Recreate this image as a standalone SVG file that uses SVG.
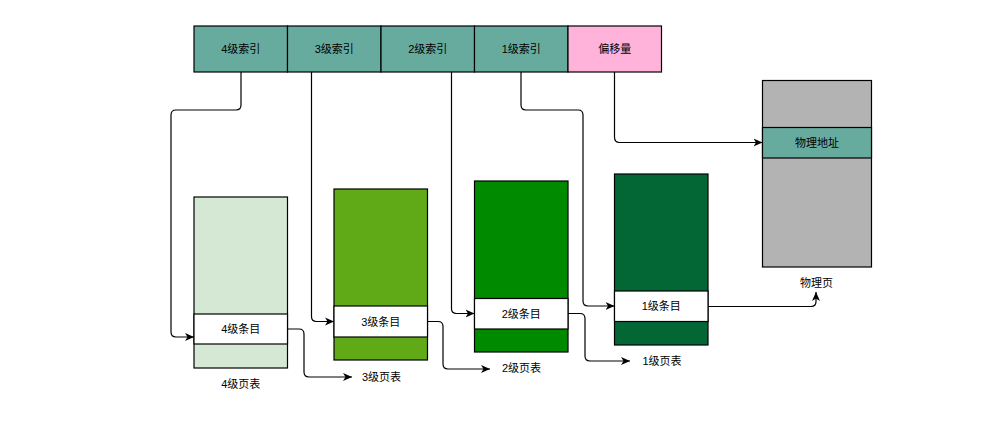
<svg xmlns="http://www.w3.org/2000/svg" width="1003" height="428" viewBox="0 0 1003 428">
<style>
text{font-family:"Liberation Sans","Noto Sans CJK SC",sans-serif;font-size:11px;fill:#000;text-anchor:middle;dominant-baseline:central}
.b{stroke:#000;stroke-width:1.2}
.c{fill:none;stroke:#000;stroke-width:1.2;marker-end:url(#arr)}
</style>
<defs>
<marker id="arr" markerUnits="userSpaceOnUse" markerWidth="10" markerHeight="9" refX="9" refY="4.5" orient="auto">
<path d="M0,0.5 L9,4.5 L0,8.5 L2.5,4.5 Z" fill="#000"/>
</marker>
</defs>
<rect width="1003" height="428" fill="#fff"/>
<g id="idx4"><rect class="b" x="194" y="26" width="93.5" height="46" fill="#67AB9F"/><text x="240.7" y="49">4级索引</text></g>
<g id="idx3"><rect class="b" x="287.5" y="26" width="93.5" height="46" fill="#67AB9F"/><text x="334.2" y="49">3级索引</text></g>
<g id="idx2"><rect class="b" x="381" y="26" width="93.5" height="46" fill="#67AB9F"/><text x="427.7" y="49">2级索引</text></g>
<g id="idx1"><rect class="b" x="474.5" y="26" width="93.5" height="46" fill="#67AB9F"/><text x="521.2" y="49">1级索引</text></g>
<g id="offset"><rect class="b" x="568" y="26" width="93.5" height="46" fill="#FFB3DA"/><text x="614.7" y="49">偏移量</text></g>
<g id="pt4"><rect class="b" x="194" y="197" width="93.5" height="171" fill="#D5E8D4"/><rect class="b" x="194" y="314" width="93.5" height="30" fill="#fff"/><text x="240.7" y="329">4级条目</text><text x="240.7" y="384">4级页表</text></g>
<g id="pt3"><rect class="b" x="334" y="189" width="93.5" height="171" fill="#60A917"/><rect class="b" x="334" y="306" width="93.5" height="31" fill="#fff"/><text x="380.7" y="321.5">3级条目</text><text x="381.5" y="377">3级页表</text></g>
<g id="pt2"><rect class="b" x="474.5" y="181" width="93.5" height="171" fill="#008A00"/><rect class="b" x="474.5" y="298.5" width="93.5" height="30.5" fill="#fff"/><text x="521.2" y="313.7">2级条目</text><text x="521.5" y="368">2级页表</text></g>
<g id="pt1"><rect class="b" x="614.5" y="174" width="93.5" height="171" fill="#036635"/><rect class="b" x="614.5" y="291" width="93.5" height="30.5" fill="#fff"/><text x="661.2" y="306">1级条目</text><text x="662" y="361">1级页表</text></g>
<g id="phys"><rect class="b" x="762.5" y="80.5" width="109" height="186.5" fill="#B3B3B3"/><rect class="b" x="762.5" y="127.5" width="109" height="30.5" fill="#67AB9F"/><text x="817" y="142.7">物理地址</text><text x="816.5" y="283">物理页</text></g>
<g id="connectors">
<path class="c" d="M241,72 V105 Q241,110 236,110 H176 Q171,110 171,115 V332 Q171,337 176,337 H194"/>
<path class="c" d="M311.5,72 V316.5 Q311.5,321.5 316.5,321.5 H334"/>
<path class="c" d="M451.5,72 V308.5 Q451.5,313.5 456.5,313.5 H474.5"/>
<path class="c" d="M521,72 V105 Q521,110 526,110 H578 Q583,110 583,115 V301 Q583,306 588,306 H614.5"/>
<path class="c" d="M614.5,72 V137 Q614.5,142.5 619.5,142.5 H762.5"/>
<path class="c" d="M287.5,329 H299 Q304,329 304,334 V372 Q304,377 309,377 H352"/>
<path class="c" d="M427.5,321.5 H438 Q443,321.5 443,326.5 V364 Q443,369 448,369 H490"/>
<path class="c" d="M568,313.5 H580 Q585,313.5 585,318.5 V356 Q585,361 590,361 H630"/>
<path class="c" d="M708,306.5 H811 Q816,306.5 816,301.5 V292"/>
</g>
</svg>
